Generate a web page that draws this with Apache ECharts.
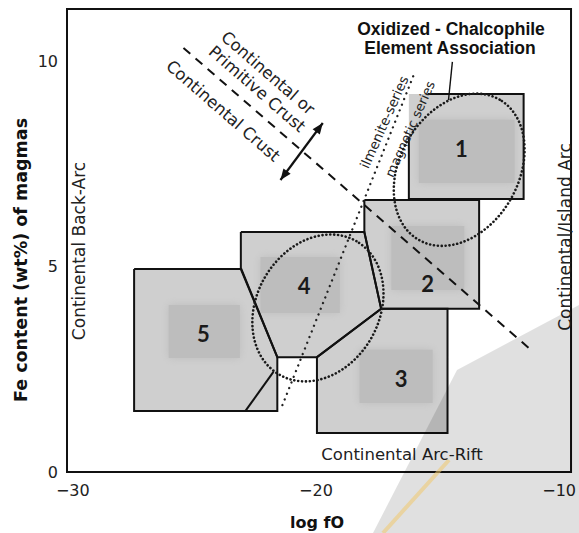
<!DOCTYPE html>
<html><head><meta charset="utf-8">
<script src="https://cdn.jsdelivr.net/npm/echarts@6/dist/echarts.min.js"></script>
<style>html,body{margin:0;padding:0;background:#fff}#c{width:579px;height:533px}</style>
</head><body><div id="c"></div>
<script>
// ---- data ----
const xTickValues = [-30, -20, -10];
const yTickValues = [0, 5, 10];
const regionLabels = ['1', '2', '3', '4', '5'];
const region1 = [[-16.18, 9.22], [-11.46, 9.22], [-11.46, 6.66], [-16.18, 6.66]];
const region1Outline = [[-16.18, 8.18], [-16.18, 6.66], [-11.46, 6.66], [-11.46, 9.22], [-15.41, 9.22]];
const region2 = [[-18.01, 6.63], [-13.29, 6.63], [-13.29, 3.98], [-17.32, 3.98], [-18.01, 5.85]];
const region3 = [[-17.32, 3.98], [-14.59, 3.98], [-14.59, 0.95], [-19.96, 0.95], [-19.96, 2.80]];
const region4 = [[-23.09, 5.85], [-18.01, 5.85], [-17.32, 3.98], [-19.96, 2.80], [-21.59, 2.80], [-23.09, 4.98]];
const region5 = [[-27.48, 4.95], [-23.09, 4.95], [-21.59, 2.80], [-21.59, 1.49], [-27.48, 1.49]];
// darker cores: [x1, y1, x2, y2]
const regionCores = [[-15.77, 8.59, -11.83, 7.05], [-16.9, 6.0, -13.9, 4.44], [-18.21, 2.98, -15.2, 1.68], [-22.28, 5.24, -19.02, 3.88], [-26.06, 4.07, -23.13, 2.78]];
const regionLabelPos = [[-14.02, 7.9], [-15.41, 4.59], [-16.5, 2.29], [-20.49, 4.54], [-24.63, 3.37]];
const region5Cut = [[-22.9, 1.49], [-21.75, 2.44]];
const crustBoundary = [[-25.45, 10.34], [-11.1, 2.95]];
const seriesBoundary = [[-21.38, 1.63], [-15.98, 9.68]];
const crustArrow = [[-21.46, 7.12], [-19.72, 8.51]];
const associationPointer = [[-14.39, 10.0], [-14.55, 9.07]];
// ellipses: [cx, cy, semi-major, semi-minor (x-axis units), tilt in degrees]
const ellipseOxidized = [-14.11, 7.37, 3.33, 2.44, 60];
const ellipseRegion4 = [-19.92, 4.0, 3.17, 2.52, 60];

const regions = [region1, region2, region3, region4, region5];
const outlines = [region1Outline, region2.concat([region2[0]]), region3.concat([region3[0]]), region4.concat([region4[0]]), region5.concat([region5[0]])];
const ellipses = [ellipseOxidized, ellipseRegion4];

const FONT = 'DejaVu Sans';
const chart = echarts.init(document.getElementById('c'), null, { renderer: 'svg' });

function arrowHead(api, tail, tip, len, half) {
  const a = api.coord(tail), b = api.coord(tip);
  const dx = b[0] - a[0], dy = b[1] - a[1], L = Math.hypot(dx, dy);
  const ux = dx / L, uy = dy / L;
  const bx = b[0] - ux * len, by = b[1] - uy * len;
  return { type: 'polygon', shape: { points: [b, [bx - uy * half, by + ux * half], [bx + uy * half, by - ux * half]] }, style: { fill: '#111' } };
}
function label(x, y, text, opts) {
  return Object.assign({ type: 'text', z: 50, x: x, y: y,
    style: Object.assign({ text: text, fontFamily: FONT, fontSize: 16.5, fill: '#222', align: 'center', verticalAlign: 'middle' }, opts.style || {}) },
    opts.rotation !== undefined ? { rotation: opts.rotation } : {});
}
const DEG = Math.PI / 180;

const option = {
  animation: false,
  backgroundColor: '#fff',
  grid: { left: 67, right: 2, top: 9, bottom: 61, show: true, borderColor: '#111', borderWidth: 2 },
  xAxis: {
    type: 'value', min: -30.24, max: -9.51,
    splitLine: { show: false }, axisTick: { show: false },
    axisLine: { show: true, lineStyle: { color: '#111', width: 2 } },
    axisLabel: { customValues: xTickValues, margin: 10, fontFamily: FONT, fontSize: 16, color: '#222',
      formatter: v => String(v).replace('-', '\u2212') }
  },
  yAxis: {
    type: 'value', min: 0, max: 11.29,
    splitLine: { show: false }, axisTick: { show: false },
    axisLine: { show: true, lineStyle: { color: '#111', width: 2 } },
    axisLabel: { customValues: yTickValues, margin: 9, fontFamily: FONT, fontSize: 16, color: '#222' }
  },
  series: [
    { // region fills
      type: 'custom', z: 1, data: regions.map((r, i) => i),
      renderItem: (params, api) => ({
        type: 'polygon',
        shape: { points: regions[params.dataIndex].map(p => api.coord(p)) },
        style: { fill: '#cfcfcf' }
      })
    },
    { // darker cores
      type: 'custom', z: 2, data: regionCores.map((r, i) => i),
      renderItem: (params, api) => {
        const c = regionCores[params.dataIndex];
        const p1 = api.coord([c[0], c[1]]), p2 = api.coord([c[2], c[3]]);
        return { type: 'rect', shape: { x: p1[0], y: p1[1], width: p2[0] - p1[0], height: p2[1] - p1[1] },
          style: { fill: '#bdbdbd', shadowBlur: 8, shadowColor: '#bdbdbd' } };
      }
    },
    { // region borders
      type: 'custom', z: 3, data: outlines.map((r, i) => i),
      renderItem: (params, api) => ({
        type: 'polyline',
        shape: { points: outlines[params.dataIndex].map(p => api.coord(p)) },
        style: { fill: 'none', stroke: '#111', lineWidth: 2, lineJoin: 'miter' }
      })
    },
    { // extra cut line in region 5
      type: 'custom', z: 3, data: [0],
      renderItem: (params, api) => ({
        type: 'polyline', shape: { points: region5Cut.map(p => api.coord(p)) },
        style: { fill: 'none', stroke: '#111', lineWidth: 2 }
      })
    },
    { // dotted ellipses
      type: 'custom', z: 4, data: ellipses.map((e, i) => i),
      renderItem: (params, api) => {
        const e = ellipses[params.dataIndex];
        const c = api.coord([e[0], e[1]]);
        const a = api.size([e[2], 0])[0], b = api.size([e[3], 0])[0];
        const phi = e[4] * DEG;
        const pts = [];
        for (let i = 0; i < 180; i++) {
          const t = i / 180 * 2 * Math.PI, u = a * Math.cos(t), v = b * Math.sin(t);
          pts.push([c[0] + u * Math.cos(phi) - v * Math.sin(phi), c[1] - (u * Math.sin(phi) + v * Math.cos(phi))]);
        }
        return { type: 'polygon', shape: { points: pts },
          style: { fill: 'none', stroke: '#1a1a1a', lineWidth: 2.6, lineDash: [0.1, 3.8], lineCap: 'round' } };
      }
    },
    { // crust boundary (dashed)
      type: 'custom', z: 2, data: [0],
      renderItem: (params, api) => ({
        type: 'polyline', shape: { points: crustBoundary.map(p => api.coord(p)) },
        style: { fill: 'none', stroke: '#111', lineWidth: 2, lineDash: [9, 7] }
      })
    },
    { // ilmenite / magnetite series boundary (dotted)
      type: 'custom', z: 4, data: [0],
      renderItem: (params, api) => ({
        type: 'polyline', shape: { points: seriesBoundary.map(p => api.coord(p)) },
        style: { fill: 'none', stroke: '#222', lineWidth: 2.3, lineDash: [0.1, 6], lineCap: 'round' }
      })
    },
    { // double arrow across the crust boundary
      type: 'custom', z: 5, data: [0],
      renderItem: (params, api) => ({
        type: 'group', children: [
          { type: 'polyline', shape: { points: crustArrow.map(p => api.coord(p)) }, style: { fill: 'none', stroke: '#111', lineWidth: 2.2 } },
          arrowHead(api, crustArrow[0], crustArrow[1], 11, 4.5),
          arrowHead(api, crustArrow[1], crustArrow[0], 11, 4.5)
        ]
      })
    },
    { // pointer from the association label
      type: 'custom', z: 5, data: [0],
      renderItem: (params, api) => ({
        type: 'polyline', shape: { points: associationPointer.map(p => api.coord(p)) },
        style: { fill: 'none', stroke: '#111', lineWidth: 1.4 }
      })
    },
    { // region numbers
      type: 'custom', z: 6, data: regionLabels.map((r, i) => i),
      renderItem: (params, api) => {
        const p = api.coord(regionLabelPos[params.dataIndex]);
        return { type: 'text', x: p[0], y: p[1],
          style: { text: regionLabels[params.dataIndex], fontFamily: 'Lato', fontWeight: 'bold', fontSize: 22, fill: '#1a1a1a', align: 'center', verticalAlign: 'middle' } };
      }
    }
  ],
  graphic: [
    label(21, 260, 'Fe content (wt%) of magmas', { rotation: 90 * DEG, style: { fontWeight: 'bold', fontSize: 17.5, fill: '#111' } }),
    label(317, 522, 'log fO', { style: { fontWeight: 'bold', fontSize: 16, fill: '#111' } }),
    label(79, 251, 'Continental Back-Arc', { rotation: 90 * DEG, style: { fontSize: 17 } }),
    label(565, 237, 'Continental/Island Arc', { rotation: 90 * DEG, style: { fontSize: 17 } }),
    label(402, 454, 'Continental Arc-Rift', {}),
    label(451, 29, 'Oxidized - Chalcophile', { style: { fontFamily: 'Liberation Sans', fontWeight: 'bold', fontSize: 17.5, fill: '#111' } }),
    label(450, 48, 'Element Association', { style: { fontFamily: 'Liberation Sans', fontWeight: 'bold', fontSize: 17.5, fill: '#111' } }),
    label(268, 73, 'Continental or', { rotation: -41 * DEG }),
    label(257, 89, 'Primitive Crust', { rotation: -41 * DEG }),
    label(223, 111, 'Continental Crust', { rotation: -41 * DEG }),
    label(384, 122, 'ilmenite-series', { rotation: 66 * DEG, style: { fontSize: 13.5 } }),
    label(410, 129, 'magnetic series', { rotation: 66 * DEG, style: { fontSize: 13 } }),
    // scan watermark
    { type: 'polygon', z: 100, shape: { points: [[373, 533], [457, 370], [579, 305], [579, 533]] },
      style: { fill: 'rgba(0,0,0,0.12)' } },
    { type: 'line', z: 101, shape: { x1: 449, y1: 460, x2: 383, y2: 533 },
      style: { stroke: 'rgba(240,200,110,0.55)', lineWidth: 4 } }
  ]
};
chart.setOption(option);
</script>
</body></html>
